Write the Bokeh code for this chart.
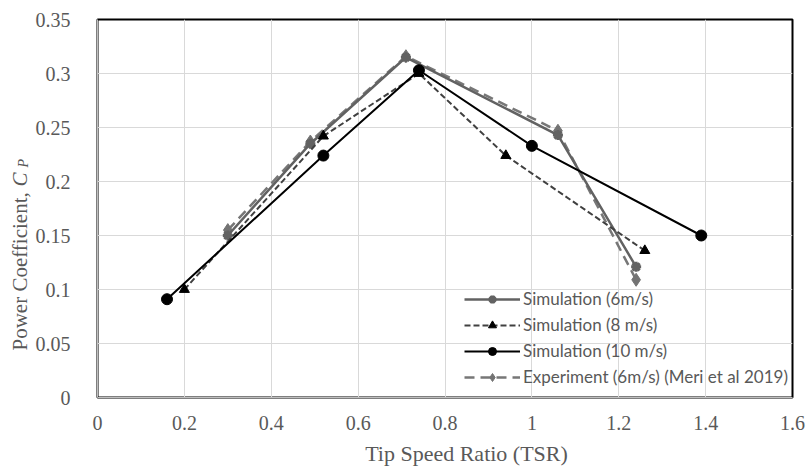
import math
from bokeh.plotting import figure
from bokeh.layouts import row, column
from bokeh.models import (Legend, LegendItem, Label, FixedTicker, Range1d)
from bokeh.embed import file_html
from bokeh.resources import INLINE

# ---- data ----
tsr_sim6 = [0.30, 0.49, 0.71, 1.06, 1.24]
cp_sim6 = [0.150, 0.235, 0.315, 0.243, 0.121]
tsr_sim8 = [0.20, 0.52, 0.74, 0.94, 1.26]
cp_sim8 = [0.100, 0.242, 0.300, 0.224, 0.136]
tsr_sim10 = [0.16, 0.52, 0.74, 1.00, 1.39]
cp_sim10 = [0.091, 0.224, 0.303, 0.233, 0.150]
tsr_exp = [0.30, 0.49, 0.71, 1.06, 1.24]
cp_exp = [0.155, 0.237, 0.316, 0.247, 0.109]

x_ticks = [0, 0.2, 0.4, 0.6, 0.8, 1.0, 1.2, 1.4, 1.6]
x_tick_labels = ["0", "0.2", "0.4", "0.6", "0.8", "1", "1.2", "1.4", "1.6"]
y_ticks = [0, 0.05, 0.1, 0.15, 0.2, 0.25, 0.3, 0.35]
y_tick_labels = ["0", "0.05", "0.1", "0.15", "0.2", "0.25", "0.3", "0.35"]

series_names = ["Simulation (6m/s)", "Simulation (8 m/s)",
                "Simulation (10 m/s)", "Experiment (6m/s) (Meri et al 2019)"]
x_title = "Tip Speed Ratio (TSR)"
y_title = "Power Coefficient, "

SERIF = "Liberation Serif"
TXT = "#595959"
MAIN_H = 440      # main figure height (title strip below)
XT_H = 26         # x title strip height
TITLE_W = 32      # y title strip width
LEFT = 96 - TITLE_W
RIGHT = 14

p = figure(frame_width=695, frame_height=378,
           min_border_left=LEFT, min_border_right=RIGHT,
           min_border_top=19, min_border_bottom=MAIN_H - 378 - 19,
           x_range=Range1d(0, 1.6), y_range=Range1d(0, 0.35),
           output_backend="svg", toolbar_location=None)

p.background_fill_color = "white"
p.border_fill_color = "white"
p.outline_line_color = "black"
p.outline_line_width = 2

p.xgrid.grid_line_color = "#d9d9d9"
p.ygrid.grid_line_color = "#d9d9d9"
p.xgrid.ticker = FixedTicker(ticks=x_ticks)
p.ygrid.ticker = FixedTicker(ticks=y_ticks)

for ax, ticks, labels in ((p.xaxis[0], x_ticks, x_tick_labels),
                          (p.yaxis[0], y_ticks, y_tick_labels)):
    ax.ticker = FixedTicker(ticks=ticks)
    ax.major_label_overrides = {t: l for t, l in zip(ticks, labels)}
    ax.major_tick_line_color = None
    ax.minor_tick_line_color = None
    ax.axis_line_color = "#bfbfbf"
    ax.major_label_text_font = SERIF
    ax.major_label_text_font_size = "20px"
    ax.major_label_text_color = TXT

p.xaxis.major_label_standoff = 12
p.yaxis.major_label_standoff = 21

# ---- series ----
r_exp_l = p.line(tsr_exp, cp_exp, line_color="#777777", line_width=2.5, line_dash="10 6")
r_exp_m = p.scatter(tsr_exp, cp_exp, marker="diamond", size=13, fill_color="#737373", line_color="#737373")

r6_l = p.line(tsr_sim6, cp_sim6, line_color="#626262", line_width=2.5)
r6_m = p.scatter(tsr_sim6, cp_sim6, marker="asterisk", size=10, line_color="#626262", line_width=3)

r8_l = p.line(tsr_sim8, cp_sim8, line_color="#404040", line_width=2, line_dash="6 3")
r8_m = p.scatter(tsr_sim8, cp_sim8, marker="triangle", size=10, fill_color="black", line_color="black")

r10_l = p.line(tsr_sim10, cp_sim10, line_color="black", line_width=2)
r10_m = p.scatter(tsr_sim10, cp_sim10, marker="circle", size=11, fill_color="black", line_color="black")

legend = Legend(items=[
    LegendItem(label=series_names[0], renderers=[r6_l, r6_m]),
    LegendItem(label=series_names[1], renderers=[r8_l, r8_m]),
    LegendItem(label=series_names[2], renderers=[r10_l, r10_m]),
    LegendItem(label=series_names[3], renderers=[r_exp_l, r_exp_m]),
], location=(367, 10))
legend.margin = 0
legend.padding = 5
legend.spacing = 5
legend.glyph_width = 56
legend.glyph_height = 20
legend.label_height = 20
legend.label_standoff = 3
legend.label_text_font = "Lato"
legend.label_text_font_size = "17px"
legend.label_text_color = TXT
legend.background_fill_alpha = 0
legend.border_line_color = None
p.add_layout(legend)


def strip(w, h):
    f = figure(frame_width=w, frame_height=h,
               x_range=Range1d(0, w), y_range=Range1d(0, h),
               min_border=0, output_backend="svg", toolbar_location=None)
    f.axis.visible = False
    f.grid.visible = False
    f.outline_line_color = None
    f.background_fill_color = "white"
    f.border_fill_color = "white"
    return f


# ---- y axis title strip (pixel coordinates) ----
t = strip(TITLE_W, MAIN_H)
t.add_layout(Label(x=19, y=MAIN_H - 331, angle=math.pi / 2,
                   text=y_title, text_font=SERIF, text_font_size="21px",
                   text_color=TXT, text_align="left", text_baseline="middle"))
t.add_layout(Label(x=19, y=MAIN_H - 167, angle=math.pi / 2,
                   text="C", text_font=SERIF, text_font_style="italic",
                   text_font_size="21px", text_color=TXT,
                   text_align="left", text_baseline="middle"))
t.add_layout(Label(x=23, y=MAIN_H - 148, angle=math.pi / 2,
                   text="P", text_font=SERIF, text_font_style="italic",
                   text_font_size="14px", text_color=TXT,
                   text_align="left", text_baseline="middle"))

# ---- x axis title strip ----
TOTAL_W = TITLE_W + LEFT + 695 + RIGHT
xt = strip(TOTAL_W, XT_H)
xt.add_layout(Label(x=466, y=XT_H / 2, text=x_title, text_font=SERIF,
                    text_font_size="22px", text_color=TXT,
                    text_align="center", text_baseline="middle"))

layout = column(row(t, p, spacing=0), xt, spacing=0)
open("out.html", "w").write(file_html(layout, INLINE))
